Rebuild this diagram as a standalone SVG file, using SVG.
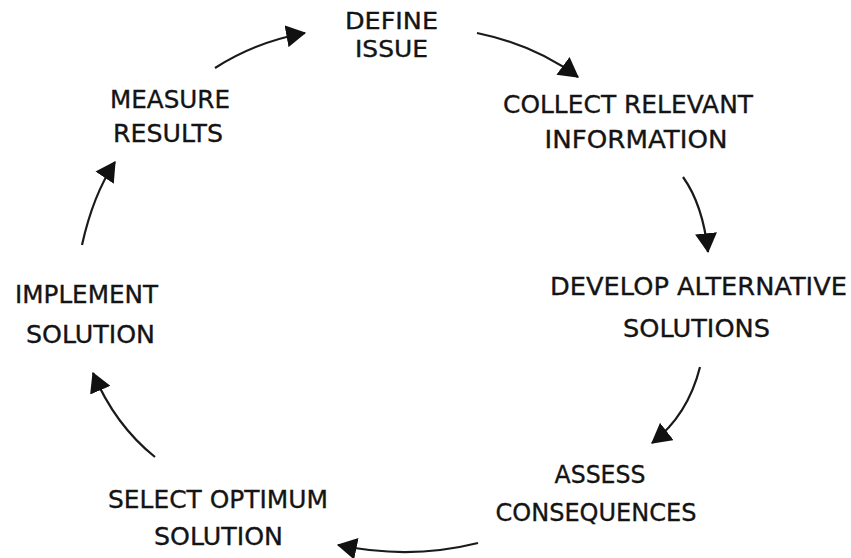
<svg xmlns="http://www.w3.org/2000/svg" width="851" height="558" viewBox="0 0 851 558">
  <style>
    .lbl { font-family: "DejaVu Sans", Verdana, sans-serif; font-size: 25.5px; fill: #141414; stroke: #141414; stroke-width: 0.35; text-anchor: middle; }
    .tight { font-size: 23px; }
    .arc { fill: none; stroke: #1a1a1a; stroke-width: 2.2; marker-end: url(#head); }
  </style>
  <defs>
    <marker id="head" markerUnits="userSpaceOnUse" markerWidth="20" markerHeight="22" viewBox="0 0 18 20" refX="17" refY="10" orient="auto">
      <path d="M0,0 L18,10 L0,20 Z" fill="#111"/>
    </marker>
  </defs>
  <rect width="851" height="558" fill="#ffffff"/>

  <g id="connectors">
    <path class="arc" d="M215,68 Q255,42 305,33"/>
    <path class="arc" d="M477,33 Q535,45 578,77"/>
    <path class="arc" d="M683,177 Q703,205 708,252"/>
    <path class="arc" d="M700,367 Q688,415 652,443"/>
    <path class="arc" d="M478,543 Q410,560 338,545"/>
    <path class="arc" d="M155,457 Q115,425 93,373"/>
    <path class="arc" d="M82,245 Q93,195 115,162"/>
  </g>

  <g id="define-issue">
    <text class="lbl tight" x="391.5" y="29" textLength="93" lengthAdjust="spacingAndGlyphs">DEFINE</text>
    <text class="lbl tight" x="391.5" y="57" textLength="73" lengthAdjust="spacingAndGlyphs">ISSUE</text>
  </g>
  <g id="collect-information">
    <text class="lbl" x="628" y="113" textLength="250" lengthAdjust="spacingAndGlyphs">COLLECT RELEVANT</text>
    <text class="lbl" x="636" y="148" textLength="183" lengthAdjust="spacingAndGlyphs">INFORMATION</text>
  </g>
  <g id="develop-alternatives">
    <text class="lbl" x="698.5" y="295" textLength="297" lengthAdjust="spacingAndGlyphs">DEVELOP ALTERNATIVE</text>
    <text class="lbl" x="696.5" y="337" textLength="147" lengthAdjust="spacingAndGlyphs">SOLUTIONS</text>
  </g>
  <g id="assess-consequences">
    <text class="lbl" x="600" y="483" textLength="91" lengthAdjust="spacingAndGlyphs">ASSESS</text>
    <text class="lbl" x="596" y="521" textLength="201" lengthAdjust="spacingAndGlyphs">CONSEQUENCES</text>
  </g>
  <g id="select-optimum">
    <text class="lbl" x="218" y="508" textLength="220" lengthAdjust="spacingAndGlyphs">SELECT OPTIMUM</text>
    <text class="lbl" x="218.5" y="545" textLength="129" lengthAdjust="spacingAndGlyphs">SOLUTION</text>
  </g>
  <g id="implement-solution">
    <text class="lbl" x="86.5" y="303" textLength="143" lengthAdjust="spacingAndGlyphs">IMPLEMENT</text>
    <text class="lbl" x="90.5" y="343" textLength="129" lengthAdjust="spacingAndGlyphs">SOLUTION</text>
  </g>
  <g id="measure-results">
    <text class="lbl" x="170" y="108" textLength="120" lengthAdjust="spacingAndGlyphs">MEASURE</text>
    <text class="lbl" x="168" y="142" textLength="110" lengthAdjust="spacingAndGlyphs">RESULTS</text>
  </g>
</svg>
